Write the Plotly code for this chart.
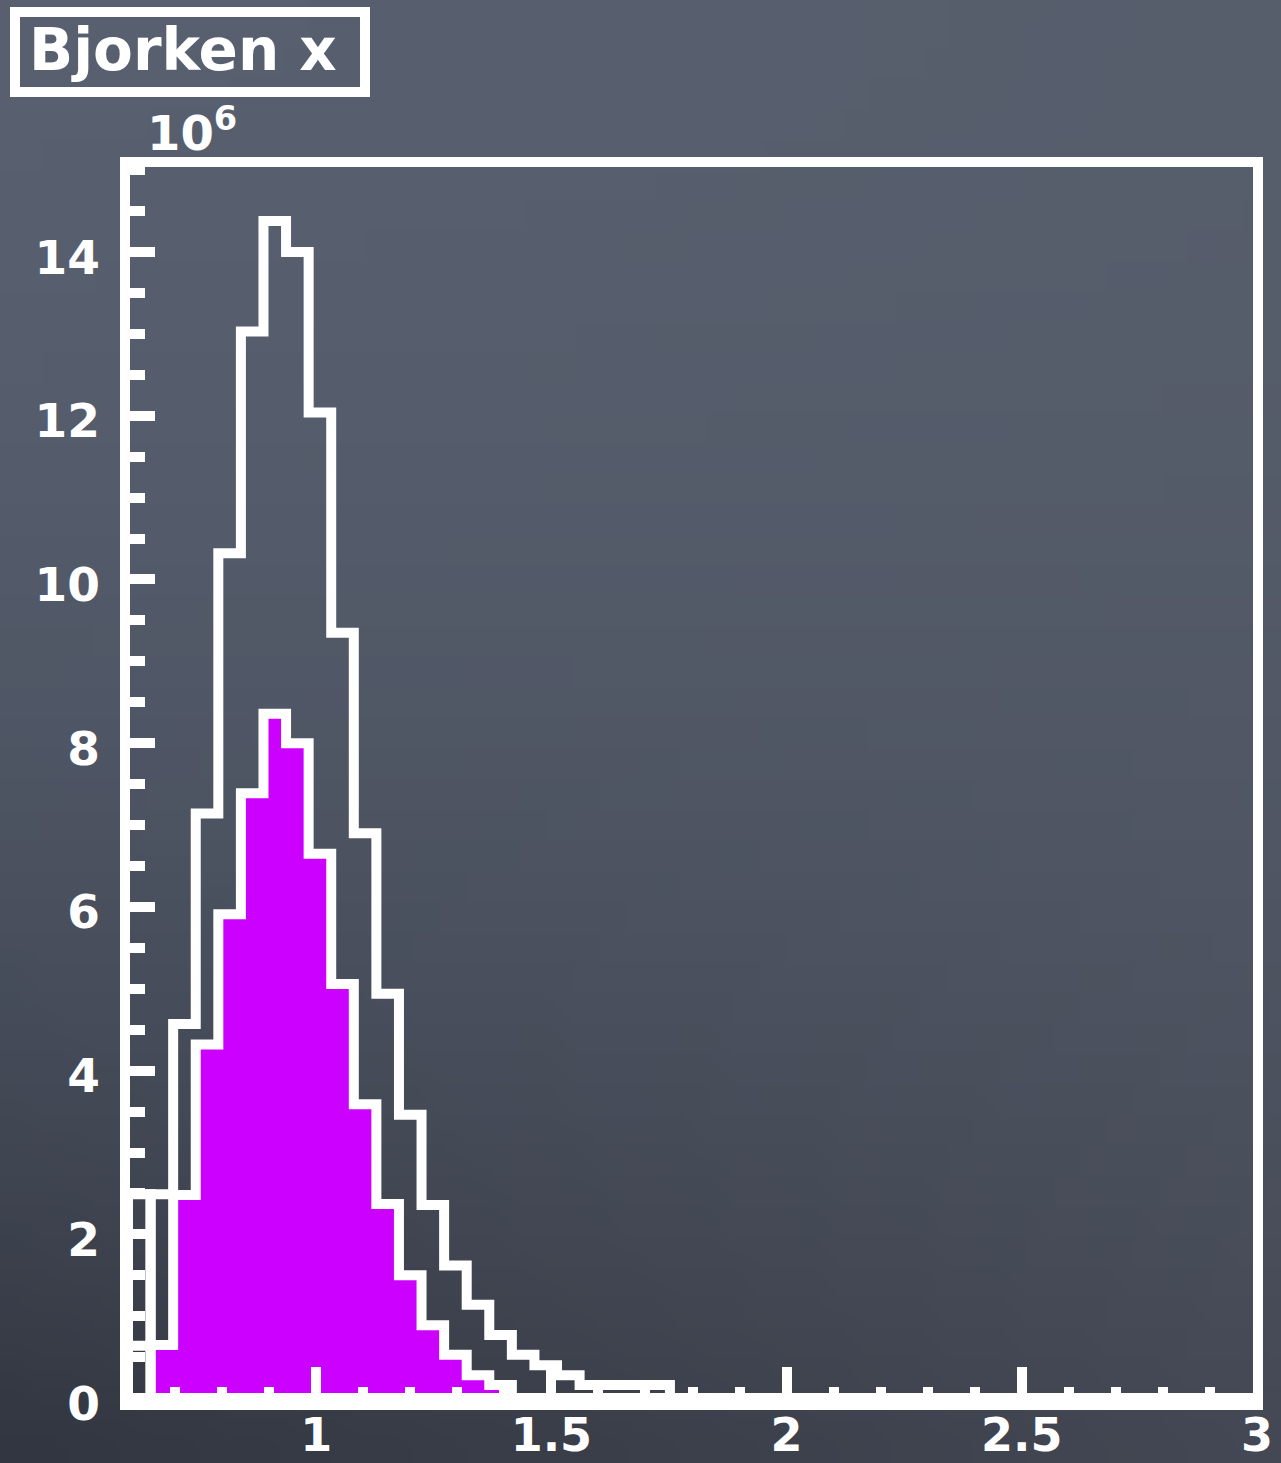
import zlib, struct, base64
import plotly.graph_objects as go

# ---------------- data (counts in units of 10^6) ----------------
x_low = 0.6
x_high = 3.0
n_bins = 50

total_counts = [0.64, 2.49, 4.57, 7.14, 10.32, 13.03, 14.38, 14.00, 12.04, 9.35,
                6.90, 4.94, 3.46, 2.36, 1.62, 1.14, 0.77, 0.53, 0.40, 0.28,
                0.16, 0.16, 0.16, 0.16, 0, 0, 0, 0, 0, 0,
                0, 0, 0, 0, 0, 0, 0, 0, 0, 0,
                0, 0, 0, 0, 0, 0, 0, 0, 0, 0]

selected_counts = [0, 0.65, 2.48, 4.32, 5.91, 7.39, 8.36, 8.00, 6.65, 5.06,
                   3.59, 2.37, 1.50, 0.89, 0.53, 0.28, 0.16, 0, 0, 0,
                   0, 0, 0, 0, 0, 0, 0, 0, 0, 0,
                   0, 0, 0, 0, 0, 0, 0, 0, 0, 0,
                   0, 0, 0, 0, 0, 0, 0, 0, 0, 0]

first_bin_counts = [2.49] + [0] * 49

x_tick_vals = [1, 1.5, 2, 2.5, 3]
x_tick_text = ["1", "1.5", "2", "2.5", "3"]
y_tick_vals = [0, 2, 4, 6, 8, 10, 12, 14]
y_tick_text = ["0", "2", "4", "6", "8", "10", "12", "14"]

title_text = "Bjorken x"
exponent_text = "10<sup>6</sup>"

# ---------------- geometry ----------------
W, H = 1281, 1463
PL, PR, PT, PB = 128, 1257, 162, 1403   # plot area in px
y_min, y_max = -0.06, 15.1

def px2x(px):
    return (px - PL) / (PR - PL)

def py2y(py):
    return (PB - py) / (PB - PT)

bin_w = (x_high - x_low) / n_bins
edges = [x_low + i * bin_w for i in range(n_bins + 1)]

def step_path(counts):
    first = next(i for i, c in enumerate(counts) if c > 0)
    xs, ys = [edges[first]], [0]
    for i in range(first, n_bins):
        xs += [edges[i], edges[i + 1]]
        ys += [counts[i], counts[i]]
    xs.append(edges[n_bins])
    ys.append(0)
    return xs, ys

# ---------------- chalkboard-like background (smooth gradient) ----------------
def make_png(w, h):
    tl, tr, bl, br = (88, 96, 112), (86, 93, 107), (50, 54, 64), (68, 72, 84)
    raw = bytearray()
    for j in range(h):
        raw.append(0)
        v = (j / (h - 1)) ** 2.0
        for i in range(w):
            u = i / (w - 1)
            px = []
            for k in range(3):
                top = tl[k] * (1 - u) + tr[k] * u
                bot = bl[k] * (1 - u) + br[k] * u
                px.append(int(round(top * (1 - v) + bot * v)))
            raw.extend(px)

    def chunk(t, d):
        c = struct.pack('>I', len(d)) + t + d
        return c + struct.pack('>I', zlib.crc32(t + d) & 0xffffffff)

    png = (b'\x89PNG\r\n\x1a\n'
           + chunk(b'IHDR', struct.pack('>IIBBBBB', w, h, 8, 2, 0, 0, 0))
           + chunk(b'IDAT', zlib.compress(bytes(raw)))
           + chunk(b'IEND', b''))
    return 'data:image/png;base64,' + base64.b64encode(png).decode()

bg = make_png(48, 48)

# ---------------- figure ----------------
fig = go.Figure()

sx, sy = step_path(selected_counts)
fig.add_trace(go.Scatter(x=sx, y=sy, mode='lines', fill='toself',
                         fillcolor='#cc00ff',
                         line=dict(color='white', width=10),
                         hoverinfo='skip', showlegend=False))

ox, oy = step_path(first_bin_counts)
fig.add_trace(go.Scatter(x=ox, y=oy, mode='lines',
                         line=dict(color='white', width=10),
                         hoverinfo='skip', showlegend=False))

tx, ty = step_path(total_counts)
fig.add_trace(go.Scatter(x=tx, y=ty, mode='lines',
                         line=dict(color='white', width=10),
                         hoverinfo='skip', showlegend=False))

font_b = dict(family='DejaVu Sans', color='white', size=46, weight='bold')
font_y = dict(family='DejaVu Sans', color='white', size=47, weight='bold')

fig.update_layout(
    width=W, height=H,
    margin=dict(l=PL, r=W - PR, t=PT, b=H - PB, pad=0, autoexpand=False),
    paper_bgcolor='#565c6a',
    plot_bgcolor='rgba(0,0,0,0)',
    showlegend=False,
    images=[dict(source=bg, xref='paper', yref='paper',
                 x=px2x(0), y=py2y(0), sizex=W / (PR - PL), sizey=H / (PB - PT),
                 sizing='stretch', layer='below', xanchor='left', yanchor='top')],
    xaxis=dict(range=[x_low, x_high], showgrid=False, zeroline=False,
               showline=False, automargin=False,
               ticks='inside', ticklen=36, tickwidth=10,
               tickcolor='white', tickvals=x_tick_vals, ticktext=x_tick_text,
               tickfont=font_b, ticklabelstandoff=1,
               minor=dict(dtick=0.1, tick0=0, ticks='inside', ticklen=16,
                          tickwidth=10, tickcolor='white', showgrid=False)),
    yaxis=dict(range=[y_min, y_max], showgrid=False, zeroline=False,
               showline=False, automargin=False,
               ticks='inside', ticklen=27, tickwidth=10,
               tickcolor='white', tickvals=y_tick_vals, ticktext=y_tick_text,
               tickfont=font_y, ticklabelstandoff=27, ticklabelshift=5,
               minor=dict(dtick=0.5, tick0=0, ticks='inside', ticklen=17,
                          tickwidth=10, tickcolor='white', showgrid=False)),
)

# frame
fig.add_shape(type='rect', xref='paper', yref='paper',
              x0=px2x(125), x1=px2x(1258), y0=py2y(1405), y1=py2y(162),
              line=dict(color='white', width=10), fillcolor='rgba(0,0,0,0)',
              layer='above')

# title box
fig.add_shape(type='rect', xref='paper', yref='paper',
              x0=px2x(15), x1=px2x(365), y0=py2y(92), y1=py2y(12),
              line=dict(color='white', width=10), fillcolor='rgba(0,0,0,0)',
              layer='above')
fig.add_annotation(xref='paper', yref='paper', x=px2x(27), y=py2y(50),
                   xanchor='left', yanchor='middle', showarrow=False,
                   text='<b>' + title_text + '</b>',
                   font=dict(family='DejaVu Sans', color='white', size=58, weight='bold'))

# exponent
fig.add_annotation(xref='paper', yref='paper', x=px2x(145), y=py2y(130),
                   xanchor='left', yanchor='middle', showarrow=False,
                   text='<b>' + exponent_text + '</b>',
                   font=dict(family='DejaVu Sans', color='white', size=48, weight='bold'))

fig.write_html("out.html",
               config={'displayModeBar': False},
               post_script="document.body.style.margin='0';"
                           "document.body.style.overflow='hidden';")
